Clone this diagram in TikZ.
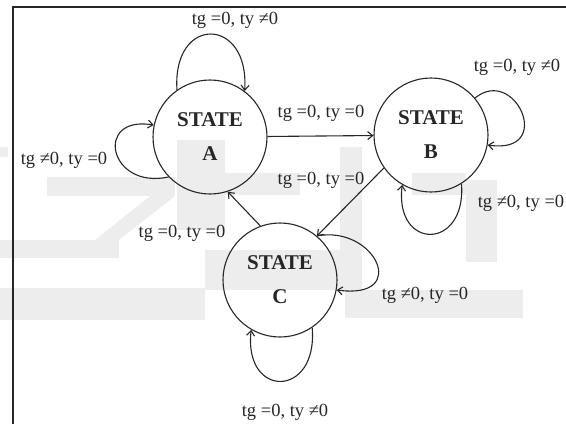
\documentclass[tikz,border=0pt]{standalone}
\usepackage{fontspec}
\setmainfont{Liberation Serif}
\usetikzlibrary{positioning,arrows.meta}

\begin{document}
\begin{tikzpicture}[x=1pt, y=-1pt, line width=1.1pt, color=black!85,
  state/.style={circle, draw, minimum size=114pt, inner sep=0pt, align=center, font=\fontsize{21}{24}\selectfont\bfseries},
  lbl/.style={font=\fontsize{18.5}{20}\selectfont, inner sep=0pt},
  go/.style={-{Straight Barb[length=5pt,width=8pt]}},
  wm/.style={fill=black!7}]
\useasboundingbox (0,0) rectangle (566,424);
% faded blocks lying behind everything
\foreach \a/\b/\c/\d in {0/147/8/157, 47/177/175/196, 0/240/119/258, 0/288/205/320, 205/250/345/290, 345/290/523/318,
  340/147/362/290, 466/180/497/262, 412/173/466/195, 177/140/225/230, 225/173/300/195}
  { \fill[wm] (\a,\b) rectangle (\c,\d); }
\fill[wm] (150,196) -- (175,196) -- (119,240) -- (95,240) -- cycle;
% frame
\draw[line width=2pt] (13,424) -- (13,7) -- (566,7);
% states
\node[state] (A) at (210,137) {STATE\\[10pt]A};
\node[state] (B) at (431,135) {STATE\\[10pt]B};
\node[state] (C) at (280,280) {STATE\\[10pt]C};
% moves between states
\draw[go] (A) -- (B);
\draw[go] (B.215) -- (C.50);
\draw[go] (C.110) -- (A.-72);
% self loops
\draw[go] (A.125) .. controls +(-5,-75) and +(5,-75) .. (A.53);
\draw[go] (A.224) .. controls +(-60,13) and +(-60,-10) .. (A.168);
\draw[go] (B.40) .. controls +(40,-33) and +(68,10) .. (B.-10);
\draw[go] (B.-58) .. controls +(5,67) and +(-8,66) .. (B.-120);
\draw[go] (C.50) .. controls +(58,-11) and +(74,10) .. (C.-10);
\draw[go] (C.-56) .. controls +(6,71) and +(-8,69) .. (C.-120);
% conditions
\node[lbl] (atop) at (235,20) {tg =0, ty ≠0};
\node[lbl] (aleft) at (64,160) {tg ≠0, ty =0};
\node[lbl] (ab) at (321,113) {tg =0, ty =0};
\node[lbl] (bc) at (321,180) {tg =0, ty =0};
\node[lbl] (ca) at (182,233) {tg =0, ty =0};
\node[lbl] (btop) at (517,67) {tg =0, ty ≠0};
\node[lbl] (bbot) at (521,203) {tg ≠0, ty =0};
\node[lbl] (cright) at (425,295) {tg ≠0, ty =0};
\node[lbl] (cbot) at (285,412) {tg =0, ty ≠0};
\end{tikzpicture}
\end{document}
